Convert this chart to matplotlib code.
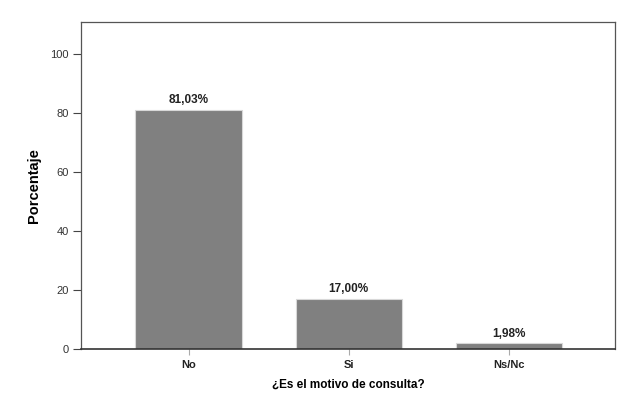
import numpy as np
import matplotlib
matplotlib.use("Agg")
import matplotlib.pyplot as plt

# data
categories = ["No", "Si", "Ns/Nc"]
percentages = [81.03, 17.00, 1.98]
value_labels = ["81,03%", "17,00%", "1,98%"]
y_ticks = [0, 20, 40, 60, 80, 100]

plt.rcParams['font.family'] = ['Liberation Sans', 'DejaVu Sans']

fig = plt.figure(figsize=(6.34, 3.95), dpi=100)
ax = fig.add_axes([0.1283, 0.1157, 0.9694 - 0.1283, 0.945 - 0.1157])

x = np.arange(len(categories))
ax.bar(x, percentages, width=0.665, color='#808080', edgecolor='#d8d8d8',
       linewidth=0.8, zorder=2)

# value labels above bars
for xi, val, lab in zip(x, percentages, value_labels):
    ax.text(xi, val + 1.3, lab, ha='center', va='bottom', fontsize=8.5,
            fontweight='bold', color='#222222')

ax.set_xlim(-0.67, 2.66)
ax.set_ylim(0, 111)
ax.set_yticks(y_ticks)
ax.set_yticklabels([str(t) for t in y_ticks], fontsize=8, color='#333333')
ax.set_xticks(x)
ax.set_xticklabels(categories, fontsize=8, fontweight='bold', color='#222222')

ax.tick_params(axis='y', direction='out', length=6, width=0.8, color='#444444', pad=3)
ax.tick_params(axis='x', direction='out', length=4, width=0.8, color='#aaaaaa', pad=4)

for side in ['left', 'right', 'top']:
    ax.spines[side].set_color('#555555')
    ax.spines[side].set_linewidth(0.9)
ax.spines['bottom'].set_color('#333333')
ax.spines['bottom'].set_linewidth(1.2)

ax.set_ylabel("Porcentaje", fontsize=10.5, fontweight='bold', labelpad=7)
ax.set_xlabel("¿Es el motivo de consulta?", fontsize=8.5, fontweight='bold', labelpad=6)

fig.savefig("out.png", dpi=100)
